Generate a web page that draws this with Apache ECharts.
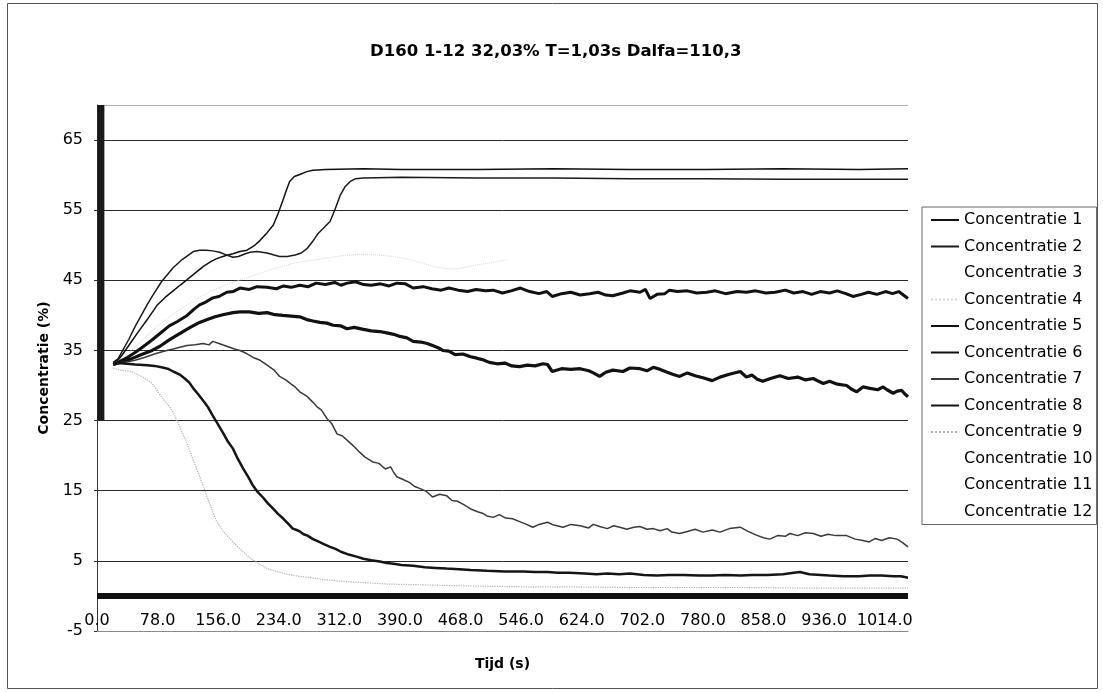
<!DOCTYPE html>
<html>
<head>
<meta charset="utf-8">
<script src="https://cdn.jsdelivr.net/npm/echarts@6/dist/echarts.min.js"></script>
<style>
html,body{margin:0;padding:0;background:#fff;}
#chart{width:1103px;height:692px;}
</style>
</head>
<body>
<div id="chart"></div>
<script>
// ---- data (time in s, concentration in %) ----
const titleText = 'D160 1-12 32,03% T=1,03s Dalfa=110,3';
const seriesNames = ['Concentratie 1','Concentratie 2','Concentratie 3','Concentratie 4','Concentratie 5','Concentratie 6','Concentratie 7','Concentratie 8','Concentratie 9','Concentratie 10','Concentratie 11','Concentratie 12'];
const xTickInterval = 78;
const xMax = 1044;
const yMin = -5, yMax = 70, yInterval = 10;
const baseLineValue = 0;

const c1 = [[21,33.3],[27,33.6],[34,34.6],[44,36.2],[54,37.8],[64,39.3],[77,41.4],[88,42.6],[98,43.5],[108,44.4],[116,45.1],[127,46.1],[137,47],[147,47.7],[154,48.1],[165,48.5],[175,48.8],[184,49.1],[193,49.3],[202,49.9],[210,50.7],[219,51.8],[227,52.9],[233,54.5],[239,56.3],[244,57.9],[248,59.1],[254,59.8],[261,60.1],[270,60.5],[278,60.7],[294,60.8],[343,60.9],[392,60.8],[490,60.8],[588,60.9],[686,60.8],[784,60.8],[882,60.9],[981,60.8],[1044,60.9]];
const c2 = [[21,33.3],[27,33.8],[34,35.2],[41,36.6],[49,38.4],[57,40],[65,41.6],[72,42.9],[83,44.8],[98,46.8],[110,48],[124,49.1],[132,49.3],[141,49.3],[149,49.2],[158,49],[167,48.6],[175,48.3],[182,48.4],[191,48.8],[197,49],[206,49.1],[219,48.9],[228,48.6],[235,48.4],[245,48.4],[255,48.6],[263,48.9],[271,49.6],[278,50.6],[284,51.6],[292,52.5],[300,53.4],[306,55],[313,57.1],[319,58.3],[326,59.1],[333,59.5],[343,59.6],[392,59.7],[490,59.6],[588,59.6],[686,59.5],[784,59.5],[882,59.4],[981,59.4],[1044,59.4]];
const c3 = [];
const c4 = [[21,33],[39,34.5],[59,36.5],[78,38.5],[98,40.2],[123,42],[147,43.5],[172,44.6],[196,45.5],[226,46.6],[255,47.5],[291,48.1],[314,48.5],[338,48.7],[363,48.6],[381,48.4],[397,48.1],[412,47.7],[432,47],[448,46.7],[463,46.6],[490,47.2],[528,47.9]];
const c5 = [[21,33],[27,33.3],[39,34],[49,34.7],[59,35.5],[72,36.6],[83,37.6],[93,38.5],[103,39.1],[116,40],[125,40.9],[132,41.5],[140,41.9],[149,42.5],[157,42.7],[167,43.3],[175,43.4],[184,43.9],[196,43.7],[206,44.1],[219,44],[231,43.8],[240,44.2],[250,44],[261,44.3],[272,44.1],[282,44.6],[294,44.4],[306,44.7],[314,44.3],[322,44.6],[333,44.8],[343,44.4],[353,44.3],[365,44.5],[376,44.2],[386,44.6],[397,44.5],[407,43.9],[420,44.1],[431,43.8],[443,43.6],[453,43.9],[465,43.6],[477,43.4],[488,43.7],[500,43.5],[510,43.6],[522,43.2],[533,43.5],[545,43.9],[557,43.4],[569,43.1],[579,43.4],[586,42.7],[598,43.1],[610,43.3],[622,42.9],[634,43.1],[645,43.3],[655,42.9],[664,42.8],[677,43.2],[686,43.5],[699,43.3],[706,43.7],[712,42.4],[721,43],[731,43.1],[737,43.6],[747,43.4],[760,43.5],[772,43.2],[785,43.3],[796,43.5],[809,43.1],[824,43.4],[836,43.3],[848,43.5],[861,43.2],[873,43.3],[886,43.6],[897,43.2],[909,43.4],[920,43],[931,43.4],[943,43.2],[953,43.5],[964,43.1],[973,42.7],[984,43],[993,43.3],[1004,43],[1015,43.4],[1024,43.1],[1032,43.4],[1038,42.9],[1044,42.4]];
const c6 = [[21,33],[27,33.2],[44,33.8],[59,34.5],[71,35],[81,35.6],[93,36.5],[108,37.5],[120,38.3],[132,39],[142,39.4],[152,39.8],[162,40.1],[175,40.4],[184,40.5],[196,40.5],[208,40.3],[219,40.4],[229,40.1],[239,40],[250,39.9],[261,39.8],[270,39.4],[278,39.2],[287,39],[296,38.9],[304,38.6],[314,38.5],[322,38.1],[331,38.3],[343,38],[353,37.8],[364,37.7],[373,37.5],[382,37.3],[390,37],[399,36.8],[407,36.3],[417,36.2],[425,36],[432,35.7],[439,35.4],[445,35],[453,34.9],[461,34.4],[471,34.5],[481,34.1],[489,33.9],[496,33.7],[505,33.3],[515,33.1],[525,33.2],[534,32.8],[544,32.7],[554,32.9],[564,32.8],[574,33.1],[580,33],[586,32],[598,32.4],[610,32.3],[622,32.4],[633,32.1],[639,31.8],[647,31.3],[655,31.9],[664,32.2],[677,32],[686,32.5],[699,32.4],[708,32.1],[716,32.6],[725,32.3],[734,31.9],[741,31.6],[750,31.3],[760,31.8],[770,31.4],[780,31.1],[792,30.7],[802,31.2],[814,31.6],[828,32],[836,31.2],[843,31.5],[850,30.9],[857,30.6],[867,31],[879,31.4],[890,31],[902,31.2],[912,30.8],[922,31],[929,30.6],[935,30.3],[943,30.6],[953,30.2],[965,30],[971,29.5],[978,29.1],[986,29.8],[995,29.6],[1005,29.4],[1012,29.8],[1017,29.4],[1025,28.9],[1030,29.2],[1036,29.3],[1040,28.8],[1044,28.4]];
const c7 = [[21,33],[27,33.2],[39,33.4],[49,33.6],[61,34],[74,34.5],[86,34.9],[98,35.2],[108,35.5],[116,35.7],[126,35.8],[137,36],[144,35.8],[149,36.3],[157,36],[167,35.6],[177,35.2],[184,35],[192,34.6],[201,34],[210,33.6],[219,32.9],[228,32.2],[235,31.3],[243,30.8],[250,30.2],[255,29.8],[261,29.1],[270,28.5],[278,27.6],[283,27],[289,26.5],[296,25.3],[302,24.6],[309,23.1],[316,22.8],[324,22],[330,21.4],[338,20.5],[345,19.8],[355,19.1],[363,18.9],[371,18.1],[378,18.4],[382,17.6],[386,17],[394,16.6],[402,16.2],[409,15.6],[416,15.3],[424,14.9],[432,14.1],[441,14.5],[450,14.3],[457,13.6],[464,13.5],[471,13.1],[481,12.4],[490,12],[496,11.8],[502,11.4],[510,11.2],[518,11.6],[526,11.1],[535,11],[544,10.6],[553,10.2],[561,9.8],[569,10.2],[580,10.5],[588,10.1],[600,9.8],[610,10.2],[622,10],[633,9.7],[639,10.2],[647,9.9],[657,9.6],[665,10],[673,9.8],[682,9.5],[691,9.8],[699,9.9],[708,9.5],[716,9.6],[725,9.3],[734,9.6],[740,9.1],[750,8.9],[760,9.2],[770,9.5],[780,9.1],[792,9.4],[802,9.1],[814,9.6],[828,9.8],[838,9.2],[848,8.7],[858,8.3],[866,8.1],[876,8.6],[886,8.5],[892,8.9],[902,8.6],[912,9],[922,8.9],[932,8.5],[941,8.8],[951,8.6],[965,8.6],[976,8.1],[986,7.9],[994,7.7],[1002,8.2],[1010,7.9],[1020,8.3],[1030,8.1],[1037,7.6],[1044,7]];
const c8 = [[21,33],[27,33.2],[39,33.1],[49,33],[65,32.9],[74,32.8],[83,32.6],[91,32.4],[98,32],[106,31.6],[113,31],[119,30.4],[124,29.6],[130,28.8],[137,27.8],[143,26.9],[149,25.7],[155,24.6],[162,23.3],[168,22.1],[175,21],[181,19.6],[188,18.2],[195,16.9],[201,15.7],[207,14.8],[214,14],[220,13.2],[227,12.4],[233,11.7],[240,11],[246,10.3],[252,9.6],[257,9.4],[261,9.2],[266,8.8],[271,8.6],[278,8.1],[284,7.8],[292,7.4],[300,7],[307,6.7],[314,6.3],[324,5.9],[334,5.6],[343,5.3],[353,5.1],[364,4.9],[373,4.7],[382,4.6],[392,4.4],[407,4.3],[422,4.1],[436,4],[450,3.9],[466,3.8],[481,3.7],[502,3.6],[525,3.5],[549,3.5],[564,3.4],[580,3.4],[593,3.3],[608,3.3],[628,3.2],[643,3.1],[657,3.2],[672,3.1],[686,3.2],[704,3],[721,2.9],[736,3],[755,3],[775,2.9],[792,2.9],[809,3],[829,2.9],[843,3],[863,3],[883,3.1],[897,3.3],[905,3.4],[917,3.1],[932,3],[943,2.9],[961,2.8],[981,2.8],[995,2.9],[1010,2.9],[1025,2.8],[1035,2.8],[1044,2.6]];
const c9 = [[21,32.5],[29,32.2],[44,32],[59,31.2],[71,30.3],[78,29.2],[85,28.1],[91,27.3],[97,26.4],[105,24.5],[113,22.5],[120,20.5],[127,18.5],[135,16.2],[142,14],[148,12.3],[154,10.6],[164,9],[175,7.7],[186,6.5],[196,5.5],[208,4.6],[219,3.9],[231,3.5],[244,3.1],[260,2.8],[275,2.6],[294,2.3],[314,2.1],[343,1.9],[373,1.7],[412,1.6],[451,1.5],[490,1.4],[549,1.3],[608,1.3],[686,1.2],[765,1.2],[843,1.2],[922,1.1],[981,1.1],[1044,1.1]];
const c10 = [];
const c11 = [];
const c12 = [];
// heavy start band (first seconds)
const startBand = [[5,70],[5,25]];

const seriesData = [c1,c2,c3,c4,c5,c6,c7,c8,c9,c10,c11,c12];
const seriesColor = ['#111','#1a1a1a','#ffffff','#d8d8d8','#111','#111','#3a3a3a','#151515','#b0b0b0','#ffffff','#ffffff','#ffffff'];
const seriesWidth = [1.5,1.5,1,1,3,3.2,1.5,2.5,1.2,1,1,1];
const seriesType = ['solid','solid','solid','dotted','solid','solid','solid','solid','dotted','solid','solid','solid'];

const FONT = '"DejaVu Sans", Verdana, sans-serif';
const chart = echarts.init(document.getElementById('chart'), null, {renderer:'canvas'});

const series = seriesNames.map((n,i)=>({
  name:n, type:'line', data:seriesData[i], symbol:'none', showSymbol:false,
  lineStyle:{color:seriesColor[i], width:seriesWidth[i], type:seriesType[i]},
  itemStyle:{color:seriesColor[i]}, animation:false, z:3
}));
series.push({
  name:'start', type:'line', data:startBand, symbol:'none',
  lineStyle:{color:'#1a1a1a', width:7}, animation:false, z:3,
  markLine:{silent:true, symbol:['none','none'], label:{show:false},
    lineStyle:{color:'#111', width:6, type:'solid'},
    data:[{yAxis:baseLineValue}]}
});

chart.setOption({
  animation:false,
  backgroundColor:'#fff',
  textStyle:{fontFamily:FONT},
  title:{text:titleText, left:365, top:38, textStyle:{fontFamily:FONT, fontSize:16.5, fontWeight:'bold', color:'#000'}},
  graphic:[{type:'rect', shape:{x:7.5,y:3.5,width:1090,height:685}, style:{fill:null, stroke:'#555', lineWidth:1}, silent:true}],
  grid:{left:97, right:195, top:105, bottom:61, containLabel:false, outerBoundsMode:'none'},
  legend:{
    data:seriesNames, orient:'vertical', left:922, top:207,
    padding:[5,4,5,8], itemGap:10.5, itemWidth:28, itemHeight:14,
    borderColor:'#666', borderWidth:1,
    itemStyle:{opacity:0},
    textStyle:{fontFamily:FONT, fontSize:16, color:'#000'}
  },
  xAxis:{
    type:'value', min:0, max:xMax, interval:xTickInterval,
    name:'Tijd (s)', nameLocation:'middle', nameGap:26,
    nameTextStyle:{fontFamily:FONT, fontSize:14, fontWeight:'bold', color:'#000'},
    axisLine:{show:true, onZero:false, lineStyle:{color:'#8a8a8a', width:1}},
    axisTick:{show:false},
    axisLabel:{fontFamily:FONT, fontSize:16, color:'#000', margin:-18, showMaxLabel:false,
      formatter:v=>v.toFixed(1)},
    splitLine:{show:false}
  },
  yAxis:{
    type:'value', min:yMin, max:yMax, interval:yInterval,
    name:'Concentratie (%)', nameLocation:'middle', nameGap:45,
    nameTextStyle:{fontFamily:FONT, fontSize:14, fontWeight:'bold', color:'#000'},
    axisLine:{show:true, onZero:false, lineStyle:{color:'#333', width:1}},
    axisTick:{show:true, length:3, lineStyle:{color:'#333'}},
    axisLabel:{fontFamily:FONT, fontSize:16, color:'#000', margin:14, showMaxLabel:false},
    splitLine:{show:true, lineStyle:{color:['#8a8a8a','#2a2a2a','#2a2a2a','#2a2a2a','#2a2a2a','#2a2a2a','#2a2a2a','#2a2a2a','#b0b0b0'], width:1}}
  },
  series:series
});
</script>
</body>
</html>
